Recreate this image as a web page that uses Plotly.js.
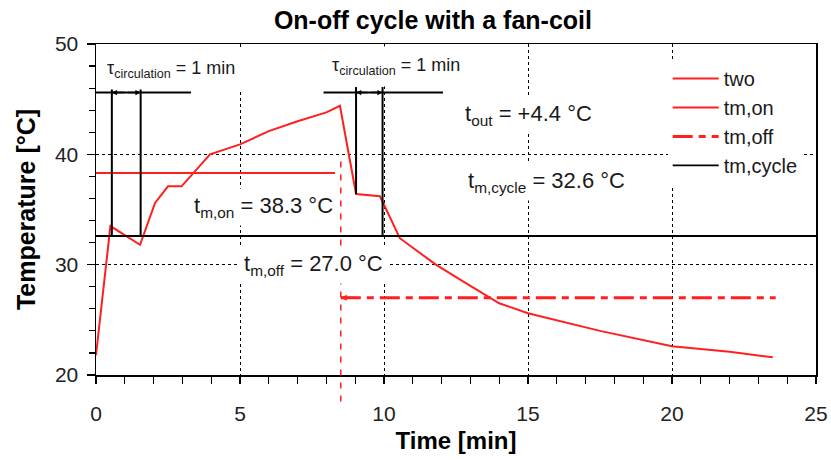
<!DOCTYPE html>
<html>
<head>
<meta charset="utf-8">
<script src="https://cdn.plot.ly/plotly-3.0.1.min.js"></script>
<style>html,body{margin:0;padding:0;background:#fff;}#chart{width:831px;height:460px;}</style>
</head>
<body>
<div id="chart"></div>
<script>
// ---- data ----
const timeTwo = [0, 0.5, 1.53, 2.05, 2.5, 2.97, 3.96, 5.0, 6.0, 7.0, 8.0, 8.47, 9.03, 9.86, 10.55, 11.8, 12.8, 13.7, 14.0, 15.0, 17.5, 20.0, 22.0, 23.5];
const tempTwo = [21.8, 33.5, 31.8, 35.6, 37.1, 37.1, 40.0, 40.9, 42.1, 43.0, 43.8, 44.4, 36.4, 36.2, 32.4, 30.0, 28.4, 27.0, 26.5, 25.6, 24.0, 22.6, 22.1, 21.6];
const timeOn = [0, 8.3];
const tmOn = 38.3;
const timeOff = [8.5, 23.6];
const tmOff = 27.0;
const timeCycle = [0, 25];
const tmCycle = 32.6;
const tSwitch = 8.5;
// circulation markers: [start, end], bar extent, and lower ends of the two verticals
const circStart = [0.55, 9.03];
const circEnd = [1.55, 9.95];
const barFrom = [0, 7.9];
const barTo = [3.3, 12.05];
const barLevel = 45.6;
const vTop = 46.1;
const vBottomStart = [32.6, 36.4];
const vBottomEnd = [32.6, 32.6];
const seriesNames = ['two', 'tm,on', 'tm,off', 'tm,cycle'];
const xTicks = [0, 5, 10, 15, 20, 25];
const yTicks = [20, 30, 40, 50];

const RED = '#ff1f1f';
const INK = '#1a1a1a';
const FONT = 'Liberation Sans, Arial, sans-serif';

const traces = [
  {x: timeTwo, y: tempTwo, name: seriesNames[0], mode: 'lines', line: {color: RED, width: 2}, legendgroup: 'a'},
  {x: timeOn, y: timeOn.map(() => tmOn), name: seriesNames[1], mode: 'lines', line: {color: RED, width: 2}, legendgroup: 'b'},
  {x: timeOff, y: timeOff.map(() => tmOff), name: seriesNames[2], mode: 'lines', line: {color: RED, width: 3, dash: '20px,6px,7px,6px'}, legendgroup: 'c'},
  {x: timeCycle, y: timeCycle.map(() => tmCycle), name: seriesNames[3], mode: 'lines', line: {color: '#000', width: 1.8}, legendgroup: 'd'}
];

const shapes = [];
for (let i = 0; i < circStart.length; i++) {
  shapes.push({type: 'line', xref: 'x', yref: 'y', x0: barFrom[i], x1: barTo[i], y0: barLevel, y1: barLevel, line: {color: '#000', width: 2}});
  shapes.push({type: 'line', xref: 'x', yref: 'y', x0: circStart[i], x1: circStart[i], y0: vTop, y1: vBottomStart[i], line: {color: '#000', width: 2}});
  shapes.push({type: 'line', xref: 'x', yref: 'y', x0: circEnd[i], x1: circEnd[i], y0: vTop, y1: vBottomEnd[i], line: {color: '#000', width: 2}});
}
shapes.push({type: 'line', xref: 'x', yref: 'paper', x0: tSwitch, x1: tSwitch, y0: -0.08, y1: 0.655, line: {color: RED, width: 1.5, dash: '6px,7px'}});

const annotations = [];
for (let i = 0; i < circStart.length; i++) {
  const mid = (circStart[i] + circEnd[i]) / 2;
  [circStart[i], circEnd[i]].forEach(xe => {
    annotations.push({x: xe, y: barLevel, ax: mid, ay: barLevel, xref: 'x', yref: 'y', axref: 'x', ayref: 'y', text: '', showarrow: true, arrowhead: 2, arrowsize: 0.7, arrowwidth: 1.5, arrowcolor: '#000'});
  });
}
annotations.push({x: timeOff[0], y: tmOff, ax: timeOff[0] + 0.6, ay: tmOff, xref: 'x', yref: 'y', axref: 'x', ayref: 'y', text: '', showarrow: true, arrowhead: 2, arrowsize: 0.6, arrowwidth: 2, arrowcolor: RED});

function label(x, y, txt, size, pad) {
  return {x: x, y: y, xref: 'x', yref: 'y', xanchor: 'left', yanchor: 'middle', text: txt, showarrow: false,
          bgcolor: '#fff', borderpad: pad, font: {family: FONT, size: size, color: INK}};
}
annotations.push(label(0.06, 47.7, 'τ<sub>circulation</sub> = 1 min', 18, 8));
annotations.push(label(7.88, 48.0, 'τ<sub>circulation</sub> = 1 min', 18, 8));
annotations.push(label(12.64, 43.6, 't<sub>out</sub> = +4.4 °C', 22, 4));
annotations.push(label(12.74, 37.5, 't<sub>m,cycle</sub> = 32.6 °C', 22, 4));
annotations.push(label(3.22, 35.2, 't<sub>m,on</sub> = 38.3 °C', 22, 4));
annotations.push(label(4.95, 30.0, 't<sub>m,off</sub> = 27.0 °C', 22, 4));

const layout = {
  width: 831, height: 460,
  margin: {l: 96, r: 15, t: 44, b: 85},
  paper_bgcolor: '#fff', plot_bgcolor: '#fff',
  font: {family: FONT, color: INK},
  title: {text: '<b>On-off cycle with a fan-coil</b>', x: 0.468 * 720 / 831 + 96 / 831, xanchor: 'center', y: 0.955, yanchor: 'middle', font: {family: FONT, size: 25, color: '#000'}},
  xaxis: {
    range: [0, 25], tickvals: xTicks, ticktext: xTicks.map(String),
    showline: true, mirror: true, linecolor: '#000', linewidth: 1.5,
    ticks: 'outside', ticklen: 7, tickwidth: 1.5, tickcolor: '#000',
    minor: {dtick: 1, ticks: 'outside', ticklen: 7, tickwidth: 1.2, tickcolor: '#000', showgrid: false},
    showgrid: true, gridcolor: '#000', griddash: 'dot', gridwidth: 1,
    zeroline: false, tickfont: {family: FONT, size: 21, color: '#222'}, ticklabelstandoff: 12,
    title: {text: '<b>Time [min]</b>', font: {family: FONT, size: 24, color: '#000'}, standoff: 8}
  },
  yaxis: {
    range: [20, 50], tickvals: yTicks, ticktext: yTicks.map(String),
    showline: true, mirror: true, linecolor: '#000', linewidth: 1.5,
    ticks: 'outside', ticklen: 8, tickwidth: 1.5, tickcolor: '#000',
    minor: {dtick: 2, ticks: 'outside', ticklen: 6, tickwidth: 1.2, tickcolor: '#000', showgrid: false},
    showgrid: true, gridcolor: '#000', griddash: 'dot', gridwidth: 1,
    zeroline: false, tickfont: {family: FONT, size: 21, color: '#222'}, ticklabelstandoff: 4,
    title: {text: '<b>Temperature [°C]</b>', font: {family: FONT, size: 25, color: '#000'}, standoff: 12}
  },
  showlegend: true,
  legend: {x: 0.794, y: 0.955, xanchor: 'left', yanchor: 'top', bgcolor: '#fff', borderwidth: 0,
           font: {family: FONT, size: 20, color: INK}, itemwidth: 46, tracegroupgap: 0},
  shapes: shapes,
  annotations: annotations
};

Plotly.newPlot('chart', traces, layout, {displayModeBar: false, staticPlot: true});
</script>
</body>
</html>
